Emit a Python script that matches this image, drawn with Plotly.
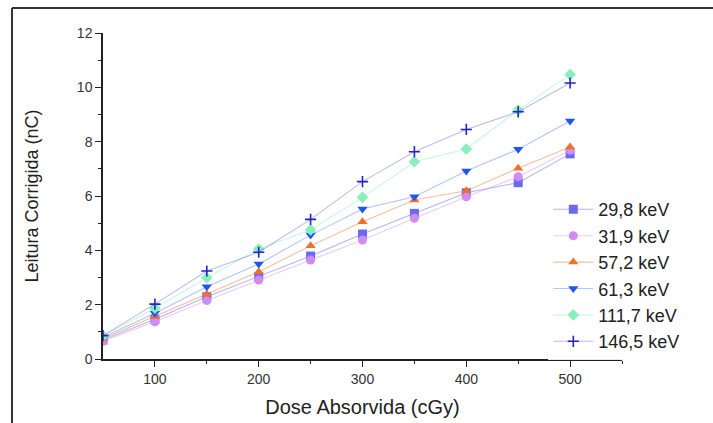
import plotly.graph_objects as go

dose = [50, 100, 150, 200, 250, 300, 350, 400, 450, 500]

e29_8 = [0.70, 1.46, 2.29, 3.03, 3.79, 4.60, 5.36, 6.12, 6.49, 7.55]
e31_9 = [0.65, 1.37, 2.15, 2.91, 3.64, 4.38, 5.18, 5.97, 6.71, 7.68]
e57_2 = [0.75, 1.56, 2.38, 3.21, 4.17, 5.05, 5.85, 6.19, 7.02, 7.80]
e61_3 = [0.80, 1.68, 2.66, 3.50, 4.56, 5.52, 5.97, 6.92, 7.72, 8.76]
e111_7 = [0.85, 1.87, 2.99, 4.05, 4.75, 5.95, 7.26, 7.73, 9.16, 10.47]
e146_5 = [0.86, 2.02, 3.24, 3.93, 5.14, 6.53, 7.63, 8.45, 9.10, 10.16]

names = ["29,8 keV", "31,9 keV", "57,2 keV", "61,3 keV", "111,7 keV", "146,5 keV"]
series = [e29_8, e31_9, e57_2, e61_3, e111_7, e146_5]
symbols = ["square", "circle", "triangle-up", "triangle-down", "diamond", "cross-thin"]
marker_colors = ["#6A6AEE", "#D08CF0", "#F07030", "#2255EE", "#88EEBB", "#2424C8"]
line_colors = ["rgba(106,106,238,0.5)", "rgba(208,140,240,0.45)", "rgba(240,112,48,0.45)",
               "rgba(34,85,238,0.35)", "rgba(136,238,187,0.45)", "rgba(60,60,210,0.35)"]

FONT = "Liberation Sans, Arial, sans-serif"

fig = go.Figure()
for nm, ys, sym, mc, lc in zip(names, series, symbols, marker_colors, line_colors):
    mk = dict(symbol=sym, color=mc, size=9)
    if sym == "cross-thin":
        mk = dict(symbol=sym, size=8, line=dict(color=mc, width=1.6))
    fig.add_trace(go.Scatter(x=dose, y=ys, name=nm, mode="lines+markers",
                             line=dict(color=lc, width=1.1), marker=mk))

axis_common = dict(showline=True, linecolor="#222", linewidth=1.5, ticks="outside",
                   tickcolor="#222", ticklen=6, tickwidth=1.3, showgrid=False, zeroline=False,
                   automargin=False,
                   tickfont=dict(family=FONT, size=14, color="#333"),
                   minor=dict(ticks="outside", ticklen=3, tickcolor="#222", tickwidth=1.3))

fig.update_xaxes(range=[50, 550], tickvals=[100, 200, 300, 400, 500],
                 minor_tickvals=[150, 250, 350, 450, 550],
                 title=dict(text="Dose Absorvida (cGy)", standoff=14,
                            font=dict(family=FONT, size=20, color="#222")),
                 **axis_common)
fig.update_yaxes(range=[0, 12], tickvals=[0, 2, 4, 6, 8, 10, 12],
                 minor_tickvals=[1, 3, 5, 7, 9, 11],
                 title=dict(text="Leitura Corrigida (nC)", standoff=34,
                            font=dict(family=FONT, size=18, color="#222")),
                 **axis_common)

fig.update_layout(
    width=713, height=423,
    margin=dict(l=103, r=91, t=33, b=64, autoexpand=False),
    paper_bgcolor="white", plot_bgcolor="white",
    showlegend=True,
    legend=dict(x=0.858, y=0.515, xanchor="left", yanchor="top",
                bgcolor="rgba(255,255,255,0.9)",
                font=dict(family=FONT, size=18, color="#222"),
                itemsizing="trace", itemwidth=40, tracegroupgap=0),
    shapes=[
        dict(type="line", xref="paper", yref="paper", x0=-0.1753, x1=1.18, y0=1.0767, y1=1.0767,
             line=dict(color="#333", width=2)),
        dict(type="line", xref="paper", yref="paper", x0=-0.1753, x1=-0.1753, y0=1.0767, y1=-0.2,
             line=dict(color="#333", width=2)),
    ],
)

fig.write_html("out.html", config={"displayModeBar": False},
               post_script="document.body.style.margin='0';")
